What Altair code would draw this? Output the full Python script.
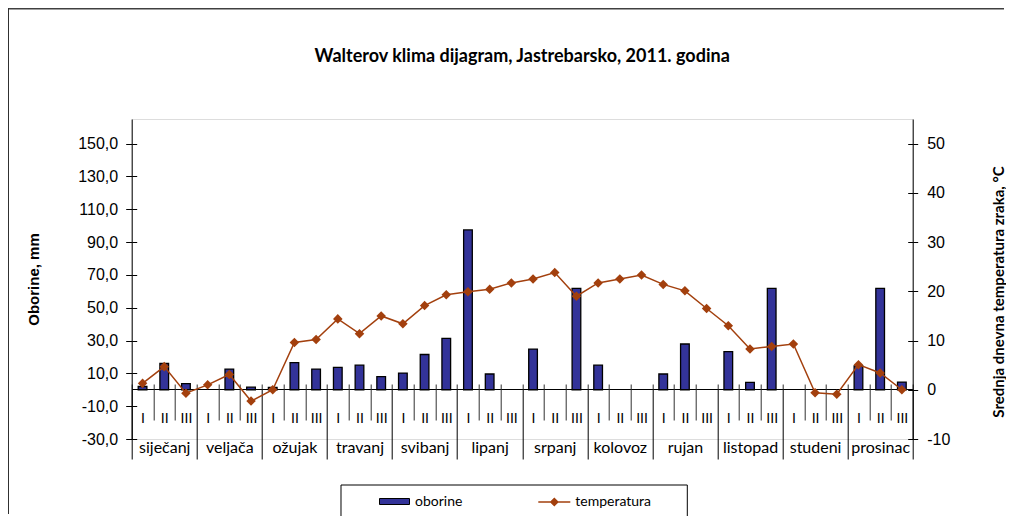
import json
import altair as alt
import pandas as pd

# ---------------- data ----------------
months = ["siječanj", "veljača", "ožujak", "travanj", "svibanj", "lipanj",
          "srpanj", "kolovoz", "rujan", "listopad", "studeni", "prosinac"]
dekads = ["I", "II", "III"]
oborine = [2.0, 16.0, 3.7, 0.0, 12.6, 1.6, 1.5, 16.6, 12.6, 13.6, 15.0, 8.0,
           10.2, 21.5, 31.3, 97.4, 9.6, 0.0, 24.8, 0.0, 61.8, 15.0, 0.0, 0.0,
           9.6, 27.9, 0.0, 23.2, 4.5, 61.8, 0.0, 0.0, 0.0, 14.5, 61.8, 4.7]
temperatura = [1.3, 4.7, -0.7, 1.0, 3.1, -2.3, 0.0, 9.6, 10.2, 14.4, 11.4, 15.0,
               13.4, 17.1, 19.3, 19.9, 20.4, 21.7, 22.5, 23.8, 19.0, 21.7, 22.5, 23.3,
               21.4, 20.1, 16.5, 13.0, 8.3, 8.8, 9.3, -0.6, -0.9, 5.1, 3.4, 0.0]
left_ticks = [150, 130, 110, 90, 70, 50, 30, 10, -10, -30]
right_ticks = [50, 40, 30, 20, 10, 0, -10]
title_text = "Walterov klima dijagram, Jastrebarsko, 2011. godina"

# ---------------- layout ----------------
W, H = 781, 320
PAD_L, PAD_T = 123.7, 111
PAD_R = 998 - PAD_L - W
PAD_B = 508 - PAD_T - H
ZERO_OFF = -50  # x axis sits at value 0

rows = []
for i, (p, t) in enumerate(zip(oborine, temperatura)):
    rows.append({"i": i, "mid": i + 0.5, "x0": i + 0.3, "x1": i + 0.7,
                 "oborine": p, "base": 0.0, "temperatura": t,
                 "s1": "oborine", "s2": "temperatura"})
df = pd.DataFrame(rows)
n = len(oborine)
mids = [i + 0.5 for i in range(n)]
all_bounds = list(range(0, n + 1))
dek_bounds = [i for i in range(1, n) if i % 3]
month_bounds = list(range(0, n + 1, 3))
month_mids = [m + 1.5 for m in range(0, n, 3)]

xscale = alt.Scale(domain=[0, n], nice=False, zero=False)
yl_scale = alt.Scale(domain=[-30, 165], nice=False, zero=False)
yr_scale = alt.Scale(domain=[-10, 55], nice=False, zero=False)
BAR_C = "#333399"
LINE_C = "#A3400E"
one = pd.DataFrame([{"k": 1}])

# chart-area frame (top and left edges) as thin filled strips
frame_top = alt.Chart(one).mark_rect(fill="#404040", strokeWidth=0).encode(
    x=alt.value(-PAD_L), x2=alt.value(W + PAD_R - 2),
    y=alt.value(-PAD_T), y2=alt.value(1.6 - PAD_T))
frame_left = alt.Chart(one).mark_rect(fill="#303030", strokeWidth=0).encode(
    x=alt.value(-PAD_L), x2=alt.value(1 - PAD_L),
    y=alt.value(-PAD_T), y2=alt.value(H + PAD_B - 2))

bars = alt.Chart(df).transform_filter("datum.oborine > 0").mark_bar(
    stroke="black", strokeWidth=1.3
).encode(
    x=alt.X("x0:Q", scale=xscale, axis=alt.Axis(
        orient="bottom", offset=ZERO_OFF, values=mids, ticks=False, domain=True,
        domainColor="black", domainWidth=1, grid=False, title=None,
        labelExpr=f"{json.dumps(dekads)}[floor(datum.value) % 3]",
        labelFont="Lato", labelFontSize=14, labelColor="black", labelPadding=22,
        labelOverlap=False, labelFlush=False)),
    x2="x1:Q",
    y=alt.Y("oborine:Q", scale=yl_scale,
            axis=alt.Axis(orient="left", values=left_ticks, grid=False,
                          title="Oborine, mm", titleFont="Liberation Sans",
                          titleFontSize=15, titleFontWeight="bold", titleColor="black",
                          titleX=-98, titleY=H / 2, titleBaseline="middle", titleAngle=270,
                          labelExpr="(datum.value < 0 ? '-' : '') + replace(format(abs(datum.value), '.1f'), '.', ',')",
                          labelFont="Liberation Sans", labelFontSize=16, labelColor="black",
                          labelPadding=8, tickSize=6, tickColor="black",
                          domainColor="black", labelOverlap=False, labelFlush=False)),
    y2="base:Q",
    fill=alt.Fill("s1:N", scale=alt.Scale(domain=["oborine"], range=[BAR_C]),
                  legend=alt.Legend(orient="none", legendX=247.3, legendY=367,
                                    direction="horizontal", title=None,
                                    symbolType="M-1,-0.2H1V0.2H-1Z", symbolSize=900,
                                    symbolStrokeColor="black", symbolStrokeWidth=1,
                                    labelFont="Lato", labelFontSize=14, labelColor="black",
                                    labelOffset=5, padding=0)),
)

line = alt.Chart(df).mark_line(
    strokeWidth=1.5,
    point=alt.OverlayMarkDef(shape="diamond", size=45, filled=True, color=LINE_C)
).encode(
    x=alt.X("mid:Q", scale=xscale, axis=alt.Axis(
        orient="bottom", offset=ZERO_OFF, values=month_mids, ticks=False, domain=False,
        grid=False, title=None,
        labelExpr=f"{json.dumps(months, ensure_ascii=False)}[floor(datum.value / 3)]",
        labelFont="Lato", labelFontSize=16, labelColor="black", labelPadding=50,
        labelOverlap=False, labelFlush=False)),
    y=alt.Y("temperatura:Q", scale=yr_scale,
            axis=alt.Axis(orient="right", values=right_ticks, grid=False,
                          title="Srednja dnevna temperatura zraka, °C", titleFont="Lato",
                          titleFontSize=15, titleFontWeight="bold", titleColor="black",
                          titleX=86, titleY=172.5, titleBaseline="middle", titleAngle=270,
                          labelExpr="(datum.value < 0 ? '-' : '') + format(abs(datum.value), 'd')",
                          labelFont="Liberation Sans", labelFontSize=16, labelColor="black",
                          labelPadding=9, tickSize=5, tickColor="black",
                          domainColor="black", labelOverlap=False, labelFlush=False)),
    stroke=alt.Stroke("s2:N", scale=alt.Scale(domain=["temperatura"], range=[LINE_C]),
                      legend=alt.Legend(orient="none", legendX=405.6, legendY=366,
                                        direction="horizontal", title=None,
                                        symbolType="M-1,0H1M0,-0.22L0.22,0L0,0.22L-0.22,0Z",
                                        symbolSize=1024, symbolStrokeWidth=1.5,
                                        symbolFillColor=LINE_C, symbolStrokeColor=LINE_C,
                                        labelFont="Lato", labelFontSize=14, labelColor="black",
                                        labelOffset=4, padding=0)),
)

# dekad boundary ticks + inner half of the left axis ticks
dek_ticks = alt.Chart(df).mark_point(opacity=0).encode(
    x=alt.X("mid:Q", scale=xscale, axis=alt.Axis(
        orient="bottom", offset=ZERO_OFF, values=dek_bounds, labels=False, domain=False,
        ticks=True, tickSize=31, tickColor="#303030", tickWidth=1, grid=False, title=None)),
    y=alt.Y("oborine:Q", scale=yl_scale, axis=alt.Axis(
        orient="left", offset=-5, values=left_ticks, labels=False, domain=False,
        ticks=True, tickSize=5, tickColor="black", grid=False, title=None)),
)

# month boundary ticks + inner half of the right axis ticks
mon_ticks = alt.Chart(df).mark_point(opacity=0).encode(
    x=alt.X("mid:Q", scale=xscale, axis=alt.Axis(
        orient="bottom", offset=ZERO_OFF, values=month_bounds, labels=False, domain=False,
        ticks=True, tickSize=70, tickColor="black", tickWidth=1, grid=False, title=None)),
    y=alt.Y("temperatura:Q", scale=yr_scale, axis=alt.Axis(
        orient="right", offset=-5, values=right_ticks, labels=False, domain=False,
        ticks=True, tickSize=5, tickColor="black", grid=False, title=None)),
)

# small part of the category separators above the zero line
up_ticks = alt.Chart(df).mark_point(opacity=0).encode(
    x=alt.X("mid:Q", scale=xscale, axis=alt.Axis(
        orient="bottom", offset=ZERO_OFF - 5, values=all_bounds, labels=False, domain=False,
        ticks=True, tickSize=5, tickColor="#303030", tickWidth=1, grid=False, title=None)),
    y=alt.value(0),
)

legend_box = alt.Chart(one).mark_rect(
    fill=None, stroke="black", strokeWidth=1
).encode(x=alt.value(209.3), x2=alt.value(555.6), y=alt.value(366), y2=alt.value(397.7))

chart = alt.layer(frame_top, frame_left, bars, line, dek_ticks, mon_ticks, up_ticks,
                  legend_box).resolve_scale(
    y="independent"
).resolve_axis(x="independent").properties(
    width=W, height=H,
    autosize=alt.AutoSizeParams(type="none"),
    padding={"left": PAD_L, "top": PAD_T, "right": PAD_R, "bottom": PAD_B},
    title=alt.TitleParams(title_text, font="Lato", fontSize=18, fontWeight="bold",
                          color="black", anchor="middle", offset=0, dy=58, frame="group"),
).configure_view(stroke=None).configure(background="white")

chart.save("out.html", embed_options={"renderer": "svg", "actions": False})
